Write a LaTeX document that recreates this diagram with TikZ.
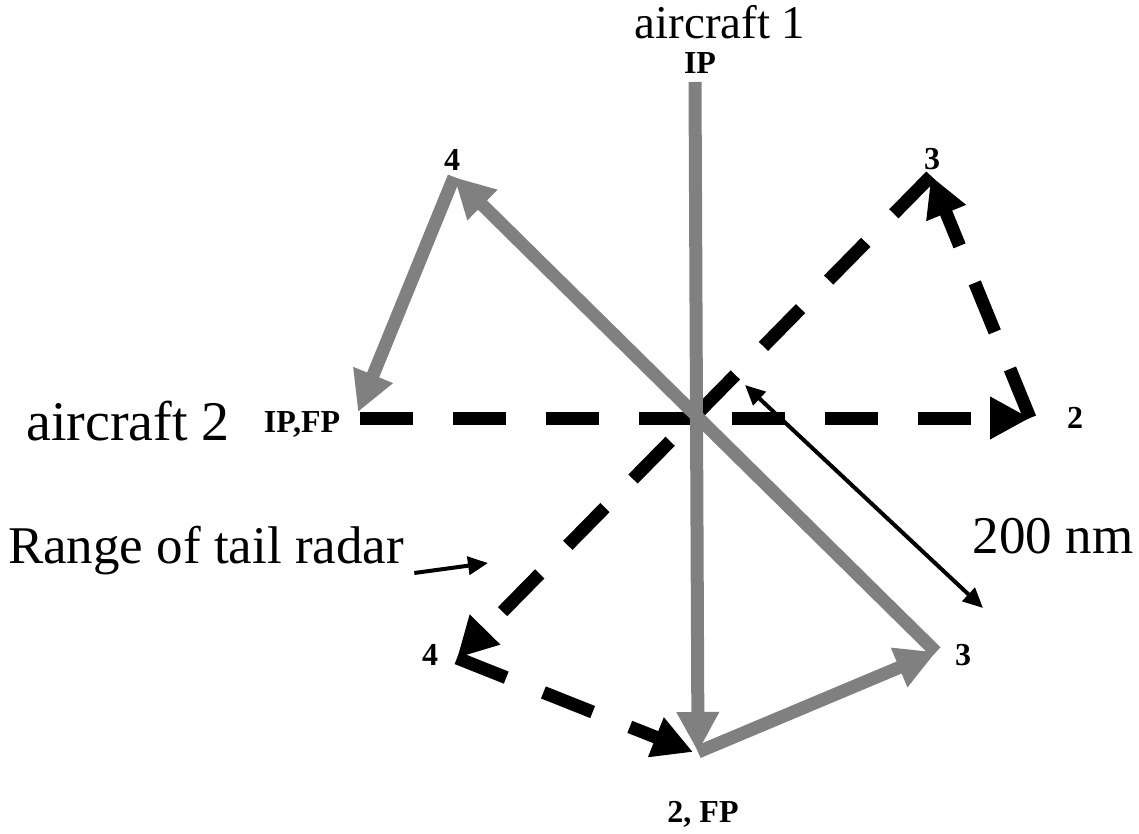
\documentclass[tikz,border=0pt]{standalone}
\usepackage{fontspec}
\setmainfont{Liberation Serif}
\usetikzlibrary{arrows.meta}
\definecolor{RouteGray}{RGB}{128,128,128}

\begin{document}
\begin{tikzpicture}[x=0.5pt,y=-0.5pt,
  leg/.style={line width=6.5pt,-{Triangle[length=20pt,width=20pt]}},
  legone/.style={leg,RouteGray},
  legtwo/.style={leg,black,dash pattern=on 26.5pt off 20pt},
  thin/.style={line width=2pt,-{Triangle[length=10pt,width=9pt]}},
  wp/.style={font=\bfseries\fontsize{16}{19}\selectfont,inner sep=0pt},
  big/.style={font=\fontsize{26.5}{30}\selectfont,inner sep=0pt}]
\useasboundingbox (0,0) rectangle (1139,834);
% aircraft 1 turn points
\coordinate (aip) at (695,82);
\coordinate (atwo) at (698,752);
\coordinate (athree) at (936,652);
\coordinate (afour) at (454,177);
\coordinate (afp) at (358,412);
% aircraft 2 turn points
\coordinate (bip) at (360,418);
\coordinate (btwo) at (1030,418);
\coordinate (bthree) at (931,176);
\coordinate (bfour) at (457,658);
\coordinate (bfp) at (693,752);
% aircraft 2 (dashed)
\draw[legtwo] (bip) -- (btwo);
\draw[legtwo] (btwo) -- (bthree);
\draw[legtwo] (bthree) -- (bfour);
\draw[legtwo] (bfour) -- (bfp);
% aircraft 1 (gray)
\draw[legone] (aip) -- (atwo);
\draw[legone] (atwo) -- (athree);
\draw[legone] (athree) -- (afour);
\draw[legone] (afour) -- (afp);
% labels
\node[font=\fontsize{23.5}{27}\selectfont,inner sep=0pt,anchor=base] (lone) at (720,39) {aircraft 1};
\node[big,font=\fontsize{28}{32}\selectfont,anchor=base] (ltwo) at (128,440) {aircraft 2};
\node[wp] (nip) at (700,63) {IP};
\node[wp,anchor=base] (nipfp) at (302,432) {IP,FP};
\node[wp,anchor=base] (nfp) at (703,822) {2, FP};
\foreach \x/\y/\t/\n in {452/160/4/nfa,932/159/3/nth,1075/418/2/ntw,430/655/4/nfb,963/655/3/nthb} {
   \node[wp] (\n) at (\x,\y) {\t};
}
% range
\coordinate (rin) at (745,385);
\coordinate (rout) at (983,608);
\draw[thin,{Triangle[length=10pt,width=9pt]}-{Triangle[length=10pt,width=9pt]}] (rin) -- (rout);
\node[big,anchor=base] (dist) at (1053,553) {200 nm};
\node[big,anchor=base] (tail) at (206,563) {Range of tail radar};
\coordinate (ttip) at (488,563);
\draw[thin] ([xshift=5pt,yshift=-5pt]tail.base east) -- (ttip);
\end{tikzpicture}
\end{document}
